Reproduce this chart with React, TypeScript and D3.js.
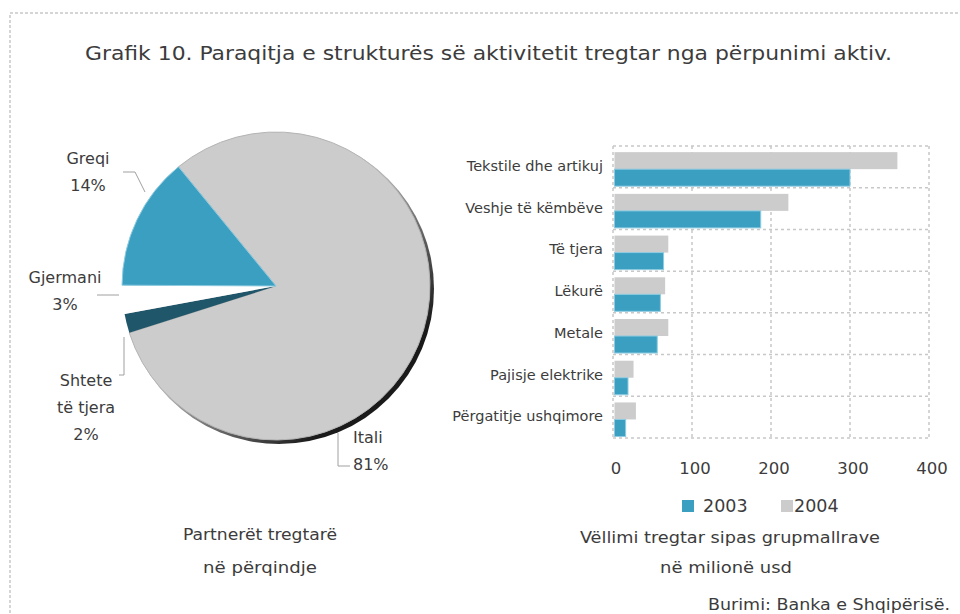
import React, { useEffect, useRef } from 'react';
import * as d3 from 'd3';

// pie: trade partners, share in percent (clockwise from Itali)
const partners = ['Itali', 'Shtete të tjera', 'Gjermani', 'Greqi'];
const shares = [81, 2, 3, 14];
const partnerColors = ['#cccccc', '#20566a', '#ffffff', '#3a9fc1'];

// bars: trade volume by product group, million usd
const groups = [
  'Tekstile dhe artikuj',
  'Veshje të këmbëve',
  'Të tjera',
  'Lëkurë',
  'Metale',
  'Pajisje elektrike',
  'Përgatitje ushqimore',
];
const values2003 = [300, 187, 64, 60, 56, 19, 16];
const values2004 = [360, 222, 70, 66, 70, 26, 29];
const years = ['2004', '2003'];
const xTicks = [0, 100, 200, 300, 400];

const FONT_C = "'DejaVu Sans Condensed', 'Liberation Sans Narrow', sans-serif";
const FONT = "'DejaVu Sans', Verdana, sans-serif";
const TEXT = '#3c3c3c';

const App = () => {
  const ref = useRef<SVGSVGElement>(null);

  useEffect(() => {
    const width = 960;
    const height = 614;
    const svg = d3.select(ref.current);
    svg.selectAll('*').remove();
    svg.attr('width', width).attr('height', height)
      .style('font-family', FONT);

    // outer dotted frame
    svg.append('rect')
      .attr('x', 10).attr('y', 13).attr('width', 960).attr('height', 640)
      .attr('fill', 'none').attr('stroke', '#c8c8c8').attr('stroke-width', 1.5)
      .attr('stroke-dasharray', '3,2');

    svg.append('text')
      .attr('x', 85).attr('y', 53).attr('dy', '0.35em')
      .attr('font-family', FONT_C)
      .attr('font-size', 19).attr('fill', TEXT)
      .attr('textLength', 807).attr('lengthAdjust', 'spacingAndGlyphs')
      .text('Grafik 10. Paraqitja e strukturës së aktivitetit tregtar nga përpunimi aktiv.');

    // ---------- pie ----------
    const cx = 276, cy = 286, r = 154;
    const start = (-39.3 * Math.PI) / 180;
    const pie = d3.pie<number>().sort(null).value(d => d)
      .startAngle(start).endAngle(start + Math.PI * 2);
    const arcs = pie(shares);
    const arc = d3.arc<d3.PieArcDatum<number>>().innerRadius(0).outerRadius(r);

    const defs = svg.append('defs');
    const sg = defs.append('linearGradient').attr('id', 'pie-shadow')
      .attr('x1', '0').attr('y1', '0').attr('x2', '1').attr('y2', '1');
    sg.append('stop').attr('offset', '0.45').attr('stop-color', '#bdbdbd');
    sg.append('stop').attr('offset', '0.8').attr('stop-color', '#1a1a1a');

    const gp = svg.append('g').attr('transform', `translate(${cx},${cy})`);
    gp.append('circle').attr('cx', 3).attr('cy', 3).attr('r', r + 1)
      .attr('fill', 'url(#pie-shadow)');
    gp.selectAll('path.slice')
      .data(arcs)
      .join('path')
      .attr('class', 'slice')
      .attr('d', arc as any)
      .attr('fill', (_, i) => partnerColors[i])
      .attr('stroke', (_, i) => (i === 0 ? '#b4b4b4' : i === 3 ? '#8ecbe0' : 'none'))
      .attr('stroke-width', 1);

    // label layout: lines of text, anchor position, leader polyline
    const pieLabelLayout = [
      { lines: ['Itali'], x: 353, y: 437, anchor: 'start', leader: [[338, 433], [338, 466], [350, 466]] },
      { lines: ['Shtete', 'të tjera'], x: 86, y: 380, anchor: 'middle', leader: [[124, 337], [124, 375], [119, 375]] },
      { lines: ['Gjermani'], x: 65, y: 277, anchor: 'middle', leader: [[97, 295], [119, 295]] },
      { lines: ['Greqi'], x: 88, y: 158, anchor: 'middle', leader: [[145, 192], [135, 172], [123, 172]] },
    ];
    const lineGap = 27;
    pieLabelLayout.forEach((l, i) => {
      svg.append('polyline')
        .attr('points', l.leader.map(p => p.join(',')).join(' '))
        .attr('fill', 'none').attr('stroke', '#a0a0a0').attr('stroke-width', 1);
      const t = svg.append('text')
        .attr('font-size', 16).attr('fill', TEXT)
        .attr('text-anchor', l.anchor);
      [...l.lines, `${shares[i]}%`].forEach((s, j) => {
        t.append('tspan').attr('x', l.x).attr('y', l.y + j * lineGap).attr('dy', '0.35em').text(s);
      });
    });

    // ---------- bars ----------
    const x = d3.scaleLinear().domain([0, 400]).range([613, 929]);
    const y = d3.scaleBand().domain(groups).range([146, 438]).padding(0);
    const ySub = d3.scaleBand().domain(years).range([0, y.step()])
      .paddingInner(0).paddingOuter(0.226).align(0.8);

    const gg = svg.append('g')
      .attr('stroke', '#c8c8c8').attr('stroke-width', 1.5).attr('stroke-dasharray', '3,3');
    const hLines = [...groups.map(g => y(g)!), 438];
    gg.selectAll('line.h').data(hLines).join('line').attr('class', 'h')
      .attr('x1', x(0)).attr('x2', x(400)).attr('y1', d => d).attr('y2', d => d);
    gg.selectAll('line.v').data(xTicks).join('line').attr('class', 'v')
      .attr('x1', d => x(d)).attr('x2', d => x(d)).attr('y1', 146).attr('y2', 438);

    const barData = groups.flatMap((g, i) => [
      { g, year: '2004', v: values2004[i] },
      { g, year: '2003', v: values2003[i] },
    ]);
    svg.append('g').selectAll('rect')
      .data(barData)
      .join('rect')
      .attr('x', x(0) + 1.5)
      .attr('y', d => y(d.g)! + ySub(d.year)!)
      .attr('width', d => x(d.v) - x(0) - 1.5)
      .attr('height', ySub.bandwidth())
      .attr('fill', d => (d.year === '2003' ? '#3a9fc1' : '#cccccc'))
      .attr('stroke', d => (d.year === '2003' ? '#8fcbe0' : 'none'))
      .attr('stroke-width', 1);

    svg.append('g').selectAll('text')
      .data(groups)
      .join('text')
      .attr('x', 603)
      .attr('y', d => y(d)! + y.bandwidth() / 2 - 1)
      .attr('dy', '0.35em')
      .attr('text-anchor', 'end')
      .attr('font-size', 14.5)
      .attr('fill', TEXT)
      .text(d => d);

    svg.append('g').selectAll('text')
      .data(xTicks)
      .join('text')
      .attr('x', d => x(d) + 3)
      .attr('y', 468)
      .attr('dy', '0.35em')
      .attr('text-anchor', 'middle')
      .attr('font-size', 16.5)
      .attr('fill', TEXT)
      .text(d => d);

    // legend
    const legend = [
      { label: '2003', color: '#3a9fc1', x: 682, tx: 703 },
      { label: '2004', color: '#cccccc', x: 781, tx: 794 },
    ];
    legend.forEach(l => {
      svg.append('rect').attr('x', l.x).attr('y', 500).attr('width', 12).attr('height', 12)
        .attr('fill', l.color);
      svg.append('text').attr('x', l.tx).attr('y', 506).attr('dy', '0.35em')
        .attr('font-size', 17.5).attr('fill', TEXT).text(l.label);
    });

    // captions
    const captions = [
      { text: 'Partnerët tregtarë', x: 260, y: 535, w: 154, anchor: 'middle' },
      { text: 'në përqindje', x: 260, y: 568, w: 114, anchor: 'middle' },
      { text: 'Vëllimi tregtar sipas grupmallrave', x: 730, y: 538, w: 300, anchor: 'middle' },
      { text: 'në milionë usd', x: 726, y: 568, w: 132, anchor: 'middle' },
      { text: 'Burimi: Banka e Shqipërisë.', x: 950, y: 605, w: 242, anchor: 'end' },
    ];
    captions.forEach(c => {
      svg.append('text')
        .attr('x', c.x).attr('y', c.y).attr('dy', '0.35em')
        .attr('font-family', FONT_C)
        .attr('text-anchor', c.anchor)
        .attr('font-size', 15).attr('fill', TEXT)
        .attr('textLength', c.w).attr('lengthAdjust', 'spacingAndGlyphs')
        .text(c.text);
    });
  }, []);

  return <svg ref={ref} style={{ position: 'absolute', left: 0, top: 0, background: '#fff' }} />;
};

export default App;
